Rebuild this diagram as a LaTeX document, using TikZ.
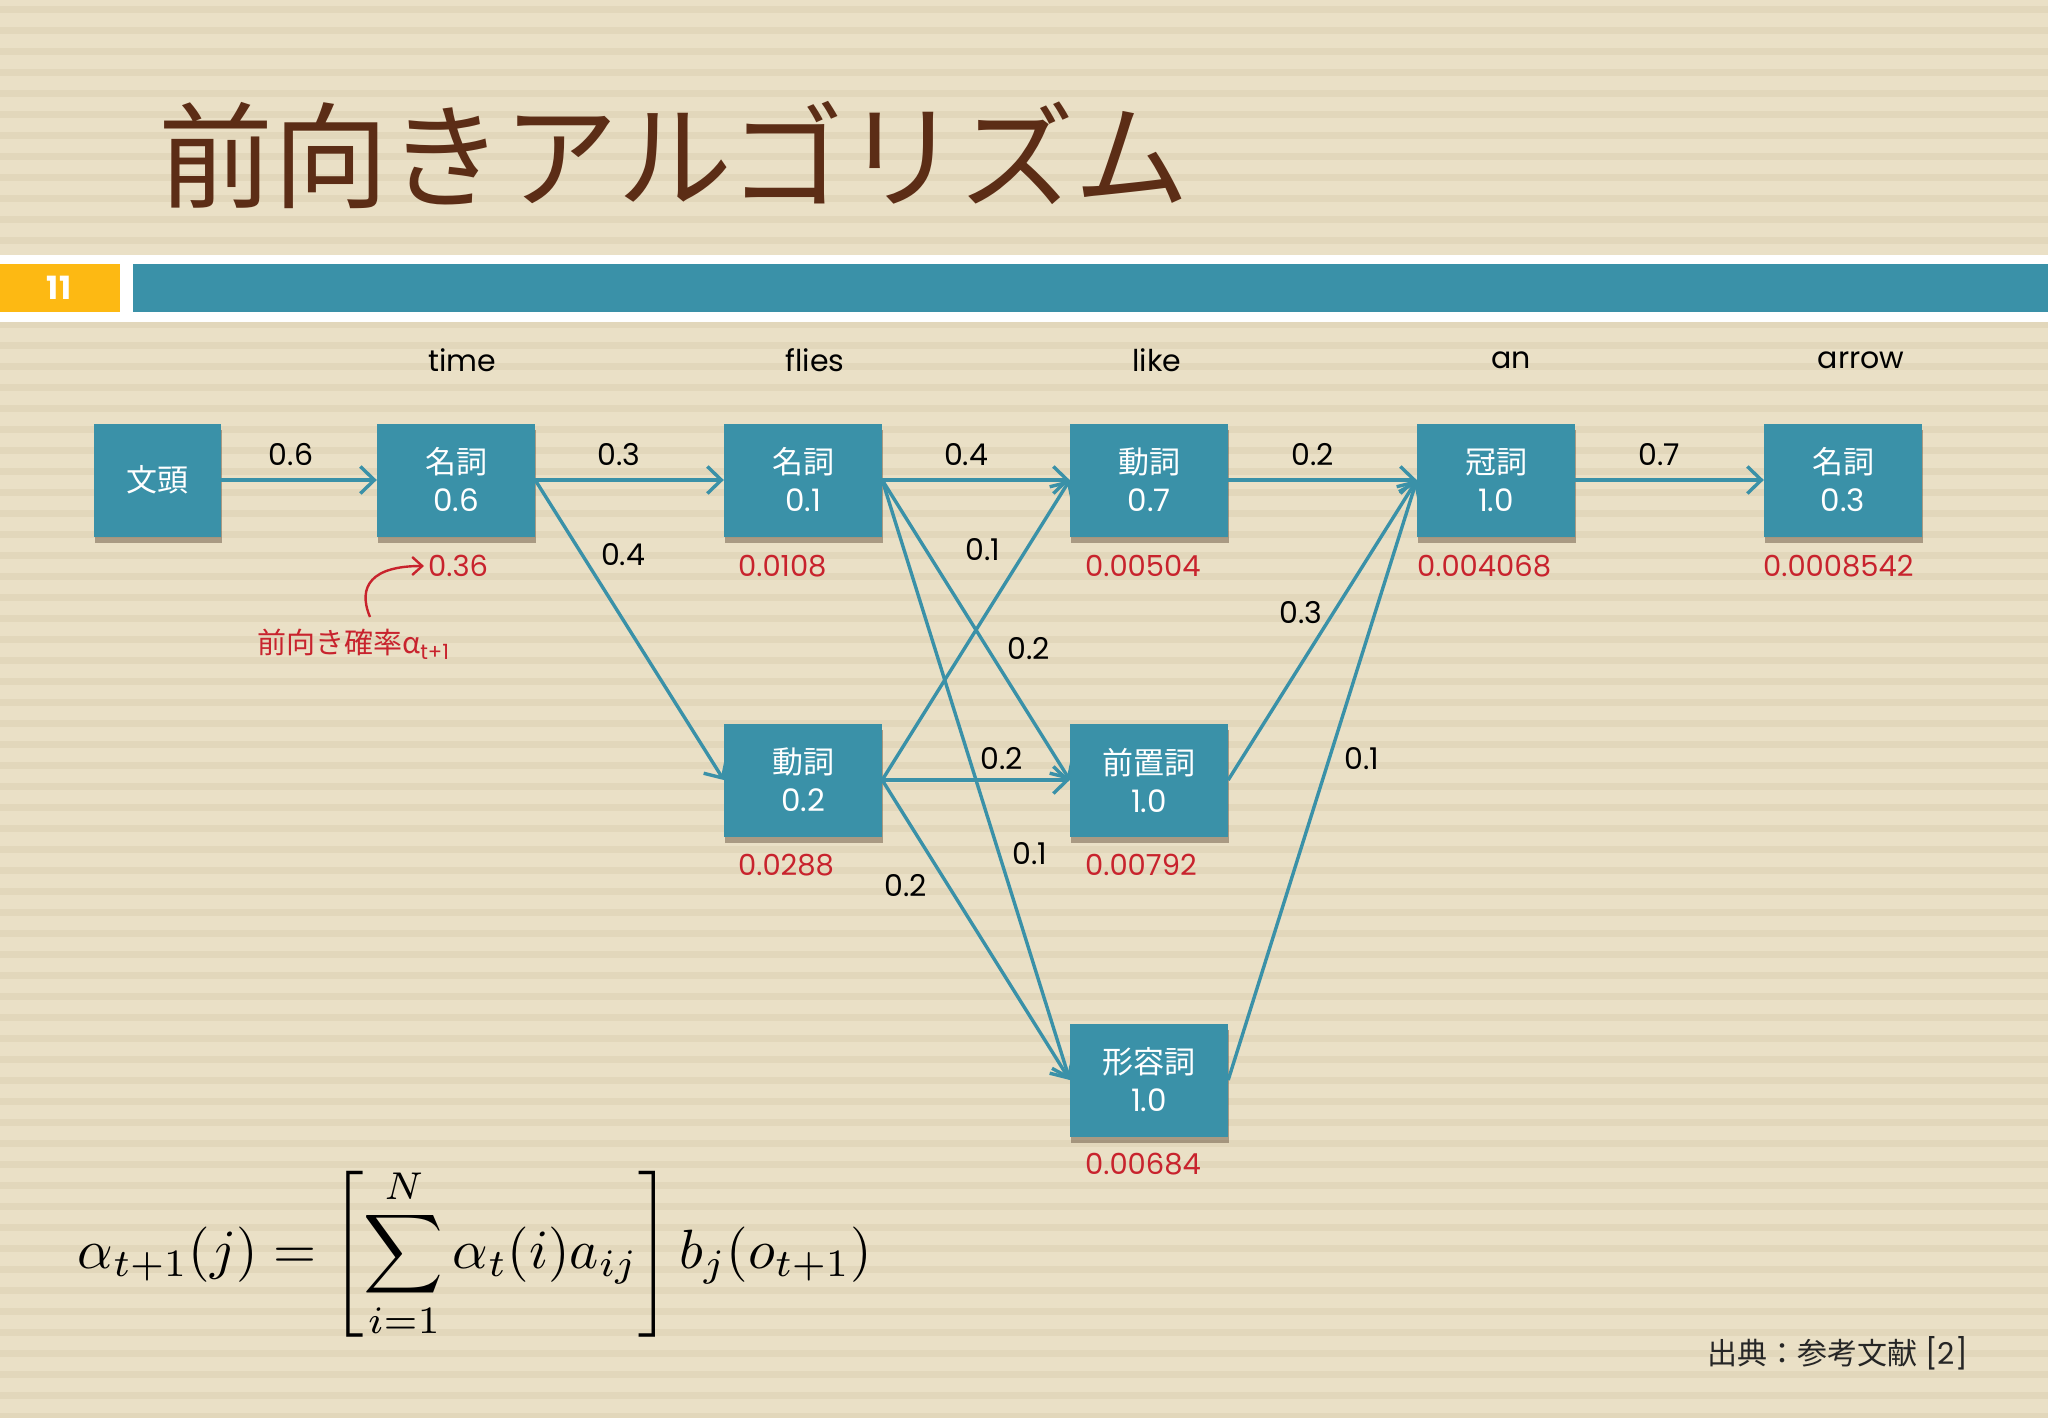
\documentclass[tikz,border=0pt]{standalone}
\usepackage[no-math]{fontspec}
\usepackage{graphicx}
\setmainfont{Poppins}
\newfontfamily\cjk{Noto Sans CJK JP}
\usetikzlibrary{arrows.meta,shadows}
\definecolor{bgbase}{RGB}{234,224,198}
\definecolor{bgstripe}{RGB}{226,215,187}
\definecolor{boxteal}{RGB}{58,145,168}
\definecolor{orng}{RGB}{253,185,19}
\definecolor{redv}{RGB}{200,35,45}
\definecolor{titlebrown}{RGB}{92,45,22}
\definecolor{shadowc}{RGB}{90,70,50}
\begin{document}
\begin{tikzpicture}[x=1pt,y=-1pt,
  box/.style={fill=boxteal, minimum width=158pt, minimum height=113pt, inner sep=0pt,
    text=white, align=center, font=\fontsize{31}{38}\selectfont,
    drop shadow={shadow xshift=1pt,shadow yshift=-6pt,opacity=0.45,fill=shadowc}},
  edge/.style={draw=boxteal, line width=3.4pt, -{Straight Barb[length=14pt,width=27pt]}},
  lbl/.style={font=\fontsize{30}{36}\selectfont, text=black, inner sep=0pt},
  val/.style={font=\fontsize{29}{35}\selectfont, text=redv, anchor=west, inner sep=0pt},
  word/.style={font=\fontsize{30}{36}\selectfont, text=black, inner sep=0pt}]
\useasboundingbox (0,0) rectangle (2048,1418);
% background
\fill[bgbase] (0,0) rectangle (2048,1418);
\foreach \i in {0,...,67} \fill[bgstripe] (0,{\i*21+6}) rectangle (2048,{\i*21+13});
% title
\node[font=\cjk\fontsize{115}{120}\selectfont, text=titlebrown, inner sep=0pt] (title) at (674,155) {前向きアルゴリズム};
% header band
\fill[white] (0,255) rectangle (2048,322);
\fill[orng] (0,264) rectangle (120,312);
\fill[boxteal] (133,264) rectangle (2048,312);
\node[text=white, font=\bfseries\fontsize{32}{34}\selectfont, inner sep=0pt] (pnum) at (59,288) {11};
% column words
\node[word] (w1) at (462,360) {time};
\node[word] (w2) at (815,360) {flies};
\node[word] (w3) at (1157,360) {like};
\node[word] (w4) at (1511,360) {an};
\node[word] (w5) at (1861,360) {arrow};
% boxes
\node[box, minimum width=127pt] (bos) at (157,480) {{\cjk 文頭}};
\node[box] (n1) at (456,480) {{\cjk 名詞}\\0.6};
\node[box] (n2) at (803,480) {{\cjk 名詞}\\0.1};
\node[box] (v2) at (803,780) {{\cjk 動詞}\\0.2};
\node[box] (v3) at (1149,480) {{\cjk 動詞}\\0.7};
\node[box] (p3) at (1149,780) {{\cjk 前置詞}\\1.0};
\node[box] (a3) at (1149,1080) {{\cjk 形容詞}\\1.0};
\node[box] (d4) at (1496,480) {{\cjk 冠詞}\\1.0};
\node[box] (n5) at (1843,480) {{\cjk 名詞}\\0.3};
% edges
\draw[edge] (bos.east) -- (n1.west);
\draw[edge] (n1.east) -- (n2.west);
\draw[edge] (n1.east) -- (v2.west);
\draw[edge] (n2.east) -- (v3.west);
\draw[edge] (n2.east) -- (p3.west);
\draw[edge] (n2.east) -- (a3.west);
\draw[edge] (v2.east) -- (v3.west);
\draw[edge] (v2.east) -- (p3.west);
\draw[edge] (v2.east) -- (a3.west);
\draw[edge] (v3.east) -- (d4.west);
\draw[edge] (p3.east) -- (d4.west);
\draw[edge] (a3.east) -- (d4.west);
\draw[edge] (d4.east) -- (n5.west);
% edge labels
\node[lbl] (l1) at (291,455) {0.6};
\node[lbl] (l2) at (619,455) {0.3};
\node[lbl] (l3) at (623,555) {0.4};
\node[lbl] (l4) at (966,455) {0.4};
\node[lbl] (l5) at (983,550) {0.1};
\node[lbl] (l6) at (1029,649) {0.2};
\node[lbl] (l7) at (1002,759) {0.2};
\node[lbl] (l8) at (1030,854) {0.1};
\node[lbl] (l9) at (906,886) {0.2};
\node[lbl] (l10) at (1313,455) {0.2};
\node[lbl] (l11) at (1301,613) {0.3};
\node[lbl] (l12) at (1362,759) {0.1};
\node[lbl] (l13) at (1659,455) {0.7};
% forward values
\node[val] (v036) at (428,566) {0.36};
\node[val] (v0108) at (738,566) {0.0108};
\node[val] (v00504) at (1085,566) {0.00504};
\node[val] (v004068) at (1417,566) {0.004068};
\node[val] (v0008542) at (1763,566) {0.0008542};
\node[val] (v0288) at (738,865) {0.0288};
\node[val] (v00792) at (1085,865) {0.00792};
\node[val] (v00684) at (1085,1164) {0.00684};
% annotation
\node[font=\fontsize{29}{32}\selectfont, text=redv, anchor=west, inner sep=0pt] (ann) at (257,644)
  {{\cjk 前向き確率α}\raisebox{-0.4ex}{\fontsize{21}{24}\selectfont t+1}};
\coordinate (annstart) at (370,617);
\draw[redv, line width=2.4pt, -{Straight Barb[length=10pt,width=18pt]}, shorten >=4pt]
  (annstart) .. controls (357,586) and (372,566) .. (v036.west);
% formula
\node[inner sep=0pt] (eq) at (475,1253) {\resizebox{794pt}{!}{$\displaystyle \alpha_{t+1}(j) = \left[\sum_{i=1}^{N}\alpha_t(i)a_{ij}\right] b_j(o_{t+1})$}};
% source
\node[font=\fontsize{30}{34}\selectfont, anchor=west, inner sep=0pt, text=black!85] (src) at (1707,1353) {{\cjk 出典：参考文献} [2]};
\end{tikzpicture}
\end{document}
